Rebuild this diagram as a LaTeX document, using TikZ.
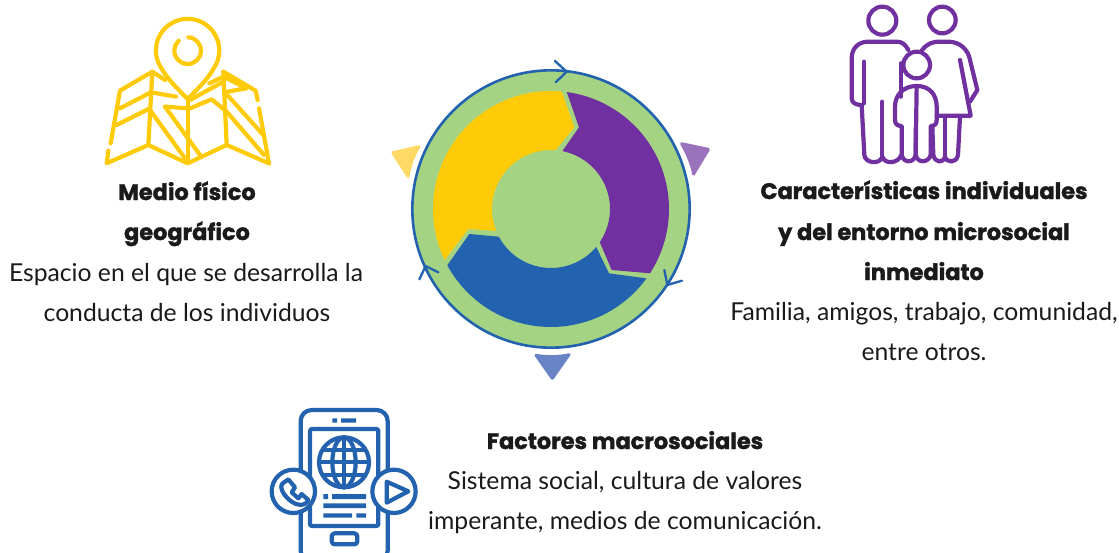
\documentclass[tikz,border=0pt]{standalone}
\usepackage{fontspec}
\setmainfont{Lato}
\newfontfamily\headfont{Poppins}[BoldFeatures={FakeBold=1.6}]
\definecolor{ygold}{HTML}{FFCB08}
\definecolor{vpur}{HTML}{7030A0}
\definecolor{bblue}{HTML}{2262AE}
\definecolor{lgreen}{HTML}{A4D384}
\definecolor{ltri}{HTML}{FFD966}
\definecolor{ptri}{HTML}{9B72BC}
\definecolor{btri}{HTML}{6884C4}
\definecolor{ink}{HTML}{1A1A1A}
\tikzset{
 headtxt/.style={text=ink,font=\headfont\bfseries\fontsize{22.4}{26}\selectfont,inner sep=0pt,anchor=base},
 bodytxt/.style={text=ink,font=\fontsize{24.7}{28}\selectfont,inner sep=0pt,anchor=base},
 icon/.style={line width=4.2pt,line cap=round,line join=round},
 tri/.style={line width=2pt,line join=round,rounded corners=1pt},
 chev/.style={draw=bblue,line width=2.3pt,line cap=round,line join=round},
}
\begin{document}
\begin{tikzpicture}[x=1pt,y=1pt]
\useasboundingbox (0,0) rectangle (1119,-552);
\clip (0,0) rectangle (1119,-552);
% --- central cycle (coordinates from a 3x crop)
\begin{scope}[shift={(380,-50)},scale=1/3]
 \fill[ltri,draw=ltri,tri] (36,-307) -- (120,-288) .. controls (100,-320) and (90,-350) .. (85,-383) -- cycle;
 \fill[ptri,draw=ptri,tri] (988,-297) -- (902,-279) .. controls (920,-310) and (935,-345) .. (940,-376) -- cycle;
 \fill[btri,draw=btri,tri] (465,-914) .. controls (500,-920) and (535,-920) .. (570,-912) -- (517,-988) -- cycle;
 \begin{scope}[shift={(513,-477)}]
  \fill[lgreen,draw=bblue,line width=2.6pt] (0,0) circle (416);
  \fill[ygold] (84.8:354) -- (70,245) -- (85.5:177) arc (85.5:201.8:177) -- (-248,-60) -- (205.7:354) arc (205.7:84.8:354) -- cycle;
  \fill[vpur] (82.3:354) -- (84,245) -- (78.9:177) arc (78.9:-34.2:177) -- (182,-183) -- (-33:354) arc (-33:82.3:354) -- cycle;
  \fill[bblue] (208.5:354) -- (-245,-75) -- (208:177) arc (208:320:177) -- (174,-193) -- (324:354) arc (324:208.5:354) -- cycle;
 \end{scope}
 \draw[chev] (525,-33) -- (560,-65) -- (527,-97);
 \draw[chev] (853,-660) -- (862,-705) -- (906,-692);
 \draw[chev] (118,-688) -- (137,-648) -- (175,-667);
\end{scope}
% --- map icon
\begin{scope}[shift={(90,0)},scale=1/3,draw=ygold,icon]
 \draw (215,-206) arc (215:-35:95) .. controls (355,-235) and (325,-265) .. (293,-297) .. controls (261,-265) and (231,-235) .. (215,-206) -- cycle;
 \draw (295,-112) arc (87:-228:40);
 \draw (62,-430) -- (90,-272) -- (187,-215) -- (225,-240);
 \draw (400,-215) -- (497,-272) -- (503,-300);
 \draw (507,-325) -- (537,-490);
 \draw (55,-452) -- (50,-490) -- (175,-435) -- (293,-490) -- (410,-435) -- (537,-490);
 \draw (187,-215) -- (175,-435);
 \draw (293,-300) -- (293,-490);
 \draw (400,-215) -- (410,-435);
 \draw (90,-325) -- (183,-277) -- (258,-290);
 \draw (80,-375) -- (180,-325);
 \draw (180,-330) -- (285,-475);
 \draw (225,-320) -- (293,-325);
 \draw (225,-320) -- (330,-465);
 \draw (300,-325) -- (365,-298) -- (410,-335) -- (522,-465);
 \draw (300,-300) -- (400,-245);
 \draw (358,-250) -- (400,-230) -- (470,-265) -- (412,-275);
 \draw (412,-285) -- (520,-405);
\end{scope}
% --- family icon
\begin{scope}[shift={(840,0)},scale=1/3,draw=vpur,icon]
 \draw (127,-62) circle (42);
 \draw (307,-60) circle (40);
 \draw (230,-195) circle (40);
 \draw (205,-150) .. controls (195,-132) and (185,-125) .. (170,-125) -- (85,-125) .. controls (55,-125) and (35,-145) .. (35,-175) -- (35,-295) .. controls (35,-310) and (50,-315) .. (65,-315) -- (73,-465)
   .. controls (75,-490) and (120,-495) .. (127,-470) .. controls (135,-495) and (175,-490) .. (184,-465);
 \draw (72,-185) -- (72,-310);
 \draw (127,-305) -- (127,-470);
 \draw (182,-190) -- (182,-290);
 \draw (245,-152) .. controls (260,-132) and (275,-125) .. (300,-125) -- (325,-125) .. controls (360,-125) and (385,-150) .. (390,-180) -- (412,-270) -- (390,-305);
 \draw (360,-180) -- (392,-347) -- (290,-347);
 \draw (315,-350) -- (315,-470);
 \draw (360,-350) -- (354,-465) .. controls (350,-490) and (320,-490) .. (315,-470) .. controls (310,-490) and (285,-490) .. (280,-465) -- (277,-380);
 \draw (230,-258) .. controls (190,-258) and (165,-285) .. (165,-320) -- (165,-360) .. controls (165,-372) and (172,-378) .. (185,-378) -- (185,-465)
   .. controls (190,-490) and (222,-490) .. (227,-465) -- (227,-385);
 \draw (227,-465) .. controls (232,-490) and (265,-490) .. (272,-465) -- (272,-378) .. controls (285,-378) and (290,-372) .. (290,-360) -- (290,-320) .. controls (290,-285) and (270,-258) .. (230,-258) -- cycle;
\end{scope}
% --- phone icon
\begin{scope}[shift={(260,-400)},scale=1/3,draw=bblue,icon]
 \draw[rounded corners=11pt] (122,-30) rectangle (383,-485);
 \draw[rounded corners=2pt] (150,-87) rectangle (355,-378);
 \fill[bblue] (217,-55) rectangle (231,-68) (243,-55) rectangle (288,-68);
 \draw (252,-187) circle (75);
 \draw (252,-187) ellipse (35 and 75);
 \draw (252,-112) -- (252,-262) (177,-187) -- (327,-187) (190,-150) -- (314,-150) (190,-225) -- (314,-225);
 \fill[bblue] (190,-282) rectangle (204,-297) (216,-282) rectangle (318,-297)
  (190,-310) rectangle (318,-324) (190,-340) rectangle (276,-353) (289,-340) rectangle (318,-353);
 \draw[fill=white] (100,-274) circle (65);
 \draw[fill=white] (402,-274) circle (65);
 \draw (380,-245) -- (445,-274) -- (380,-308) -- cycle;
 \draw (85,-238) -- (105,-262) -- (95,-277) -- (115,-295) -- (125,-282) -- (145,-300) .. controls (135,-320) and (115,-318) .. (95,-305) .. controls (75,-292) and (55,-262) .. (68,-250) -- cycle;
 \draw[rounded corners=3pt] (215,-400) rectangle (292,-433);
\end{scope}
% --- texts
\node[headtxt] (h1a) at (187,-200) {Medio físico};
\node[headtxt] (h1b) at (187,-240) {geográfico};
\node[bodytxt] (b1a) at (186,-281) {Espacio en el que se desarrolla la};
\node[bodytxt] (b1b) at (187,-321) {conducta de los individuos};
\node[headtxt] (h2a) at (924,-199) {Características individuales};
\node[headtxt] (h2b) at (924,-240) {y del entorno microsocial};
\node[headtxt] (h2c) at (924,-280) {inmediato};
\node[bodytxt] (b2a) at (924,-320) {Familia, amigos, trabajo, comunidad,};
\node[bodytxt] (b2b) at (924,-360) {entre otros.};
\node[headtxt] (h3) at (625,-449) {Factores macrosociales};
\node[bodytxt] (b3a) at (625,-489) {Sistema social, cultura de valores};
\node[bodytxt] (b3b) at (625,-529) {imperante, medios de comunicación.};
\end{tikzpicture}
\end{document}
